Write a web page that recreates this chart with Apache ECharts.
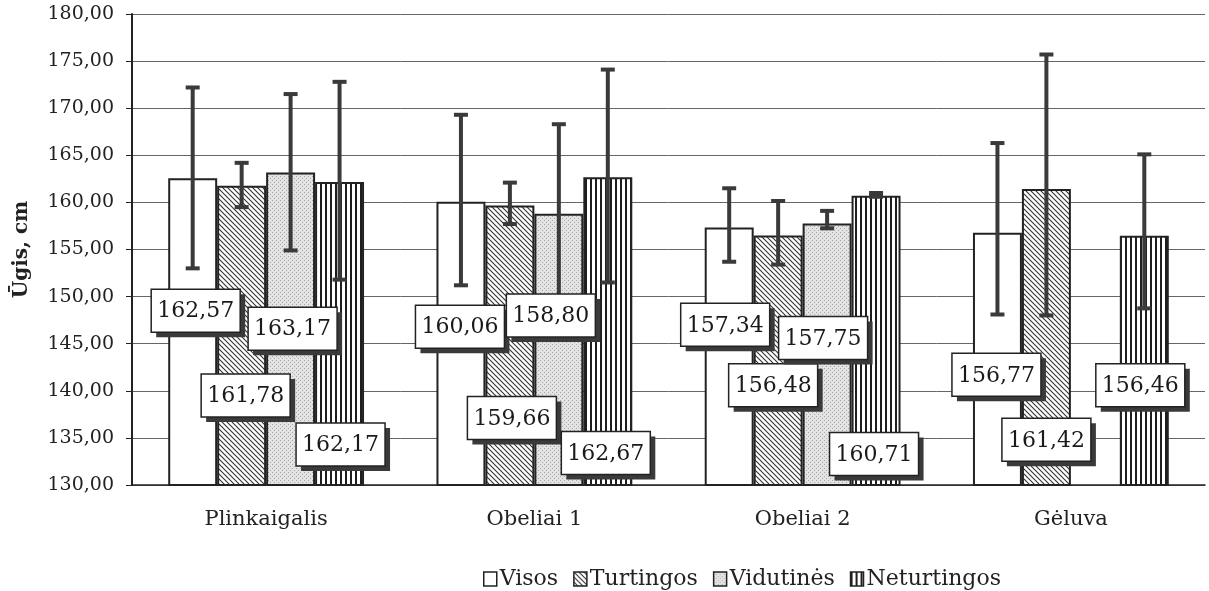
<html>
<head>
<meta charset="UTF-8" />
<script src="https://cdn.jsdelivr.net/npm/echarts@6/dist/echarts.min.js"></script>
<style>
  html, body { margin: 0; background: #fff; }
  #main { width: 1209px; height: 591px; }
</style>
</head>
<body>
<div id="main"></div>
<script>
// categories and series
const categories = ['Plinkaigalis', 'Obeliai 1', 'Obeliai 2', 'Gėluva'];
const seriesNames = ['Visos', 'Turtingos', 'Vidutinės', 'Neturtingos'];

const visos = [162.57, 160.06, 157.34, 156.77];
const turtingos = [161.78, 159.66, 156.48, 161.42];
const vidutines = [163.17, 158.80, 157.75, null];
const neturtingos = [162.17, 162.67, 160.71, 156.46];

// error bars [low, high]
const visosErr = [[153.0, 172.2], [151.2, 169.3], [153.7, 161.5], [148.1, 166.3]];
const turtingosErr = [[159.5, 164.2], [157.7, 162.1], [153.4, 160.15], [148.0, 175.7]];
const vidutinesErr = [[154.9, 171.5], [149.3, 168.3], [157.25, 159.1], null];
const neturtingosErr = [[151.8, 172.8], [151.5, 174.1], [160.6, 161.0], [148.75, 165.1]];

// y axis ticks
const yMin = 130, yMax = 180, yStep = 5;

// where the value boxes sit (axis units) and a small x shift in px
const labelY = [
  [148.5, 146.8, 147.0, 141.7],
  [139.5, 137.1, 140.6, 134.8],
  [146.6, 148.0, 145.6, null],
  [134.3, 133.4, 133.3, 140.6]
];
const labelDx = [
  [3, -1, -4, -1],
  [4, 2, -5, 0],
  [2, -8, -4, 0],
  [1, -2, -2, -4]
];

const values = [visos, turtingos, vidutines, neturtingos];
const errs = [visosErr, turtingosErr, vidutinesErr, neturtingosErr];
const catGap = 0.27;
const serif = '"DejaVu Serif", "Liberation Serif", serif';

function fmt(v) {
  return v.toFixed(2).replace('.', ',');
}

function makePattern(kind) {
  const c = document.createElement('canvas');
  const ctx = c.getContext('2d');
  if (kind === 'diag') {
    c.width = 5; c.height = 5;
    ctx.fillStyle = '#fff'; ctx.fillRect(0, 0, 5, 5);
    ctx.strokeStyle = '#333'; ctx.lineWidth = 1.1;
    ctx.beginPath();
    ctx.moveTo(-1, -1); ctx.lineTo(6, 6);
    ctx.moveTo(-1, 4); ctx.lineTo(1, 6);
    ctx.moveTo(4, -1); ctx.lineTo(6, 1);
    ctx.stroke();
  } else if (kind === 'dots') {
    c.width = 4; c.height = 4;
    ctx.fillStyle = '#e3e3e3'; ctx.fillRect(0, 0, 4, 4);
    ctx.fillStyle = '#a6a6a6';
    ctx.fillRect(0, 0, 1, 1);
    ctx.fillRect(2, 2, 1, 1);
  } else {
    c.width = 5; c.height = 2;
    ctx.fillStyle = '#fff'; ctx.fillRect(0, 0, 5, 2);
    ctx.fillStyle = '#1e1e1e'; ctx.fillRect(0, 0, 2, 2);
  }
  return { image: c, repeat: 'repeat' };
}

const fills = ['#fff', makePattern('diag'), makePattern('dots'), makePattern('vert')];

const barSeries = values.map(function (v, i) {
  return {
    type: 'bar',
    name: seriesNames[i],
    data: v.map(function (x) { return x == null ? '-' : x; }),
    barGap: '0%',
    barCategoryGap: (catGap * 100) + '%',
    itemStyle: { color: fills[i], borderColor: '#222', borderWidth: 2 },
    z: 2
  };
});

const errData = [];
errs.forEach(function (arr, si) {
  arr.forEach(function (e, ci) {
    if (e) errData.push([ci, si, e[0], e[1]]);
  });
});

const labelData = [];
values.forEach(function (arr, si) {
  arr.forEach(function (v, ci) {
    if (v != null) labelData.push([ci, si, labelY[si][ci], v, labelDx[si][ci]]);
  });
});

function barOffset(api, si) {
  const bw = api.size([1, 0])[0] * (1 - catGap) / 4;
  return (si - 1.5) * bw;
}

const errSeries = {
  type: 'custom',
  z: 5,
  data: errData,
  encode: { x: 0, y: [2, 3] },
  renderItem: function (params, api) {
    const si = api.value(1);
    const lo = api.coord([api.value(0), api.value(2)]);
    const hi = api.coord([api.value(0), api.value(3)]);
    const x = lo[0] + barOffset(api, si);
    const cap = 7;
    const st = { stroke: '#3a3a3a', lineWidth: 4 };
    return {
      type: 'group',
      children: [
        { type: 'line', shape: { x1: x, y1: hi[1], x2: x, y2: lo[1] }, style: st },
        { type: 'line', shape: { x1: x - cap, y1: hi[1], x2: x + cap, y2: hi[1] }, style: st },
        { type: 'line', shape: { x1: x - cap, y1: lo[1], x2: x + cap, y2: lo[1] }, style: st }
      ]
    };
  }
};

const labelSeries = {
  type: 'custom',
  z: 10,
  data: labelData,
  encode: { x: 0, y: 2 },
  renderItem: function (params, api) {
    const si = api.value(1);
    const p = api.coord([api.value(0), api.value(2)]);
    const cx = p[0] + barOffset(api, si) + api.value(4);
    const w = 89, h = 43;
    return {
      type: 'group',
      children: [
        { type: 'rect', shape: { x: cx - w / 2 + 5, y: p[1] - h / 2 + 5, width: w, height: h }, style: { fill: '#3a3a3a' } },
        { type: 'rect', shape: { x: cx - w / 2, y: p[1] - h / 2, width: w, height: h }, style: { fill: '#fff', stroke: '#222', lineWidth: 1.5 } },
        {
          type: 'text', x: cx, y: p[1] + 1,
          style: { text: fmt(api.value(3)), font: '22px ' + serif, fill: '#1a1a1a', align: 'center', verticalAlign: 'middle' }
        }
      ]
    };
  }
};

const chart = echarts.init(document.getElementById('main'));
chart.setOption({
  animation: false,
  backgroundColor: '#fff',
  grid: { left: 132, right: 4, top: 14, bottom: 106 },
  legend: {
    data: seriesNames,
    top: 563,
    left: 478,
    icon: 'rect',
    itemWidth: 13,
    itemHeight: 14,
    itemGap: 15,
    itemStyle: { borderColor: '#222', borderWidth: 1.5 },
    textStyle: { fontFamily: serif, fontSize: 22, color: '#222', padding: [0, 0, 0, -2] }
  },
  xAxis: {
    type: 'category',
    data: categories,
    axisLine: { lineStyle: { color: '#222', width: 1.5 } },
    axisTick: { length: 8, lineStyle: { color: '#222' } },
    axisLabel: { fontFamily: serif, fontSize: 21, color: '#222', margin: 24 }
  },
  yAxis: {
    type: 'value',
    min: yMin,
    max: yMax,
    interval: yStep,
    name: 'Ūgis, cm',
    nameLocation: 'middle',
    nameGap: 100,
    nameTextStyle: { fontFamily: serif, fontSize: 20, fontWeight: 'bold', color: '#222' },
    axisLine: { show: true, lineStyle: { color: '#222', width: 2 } },
    axisTick: { show: true, length: 6, lineStyle: { color: '#222' } },
    axisLabel: { fontFamily: serif, fontSize: 19, color: '#222', margin: 18, formatter: fmt },
    splitLine: { lineStyle: { color: '#666', width: 1 } }
  },
  series: barSeries.concat([errSeries, labelSeries])
});
</script>
</body>
</html>
